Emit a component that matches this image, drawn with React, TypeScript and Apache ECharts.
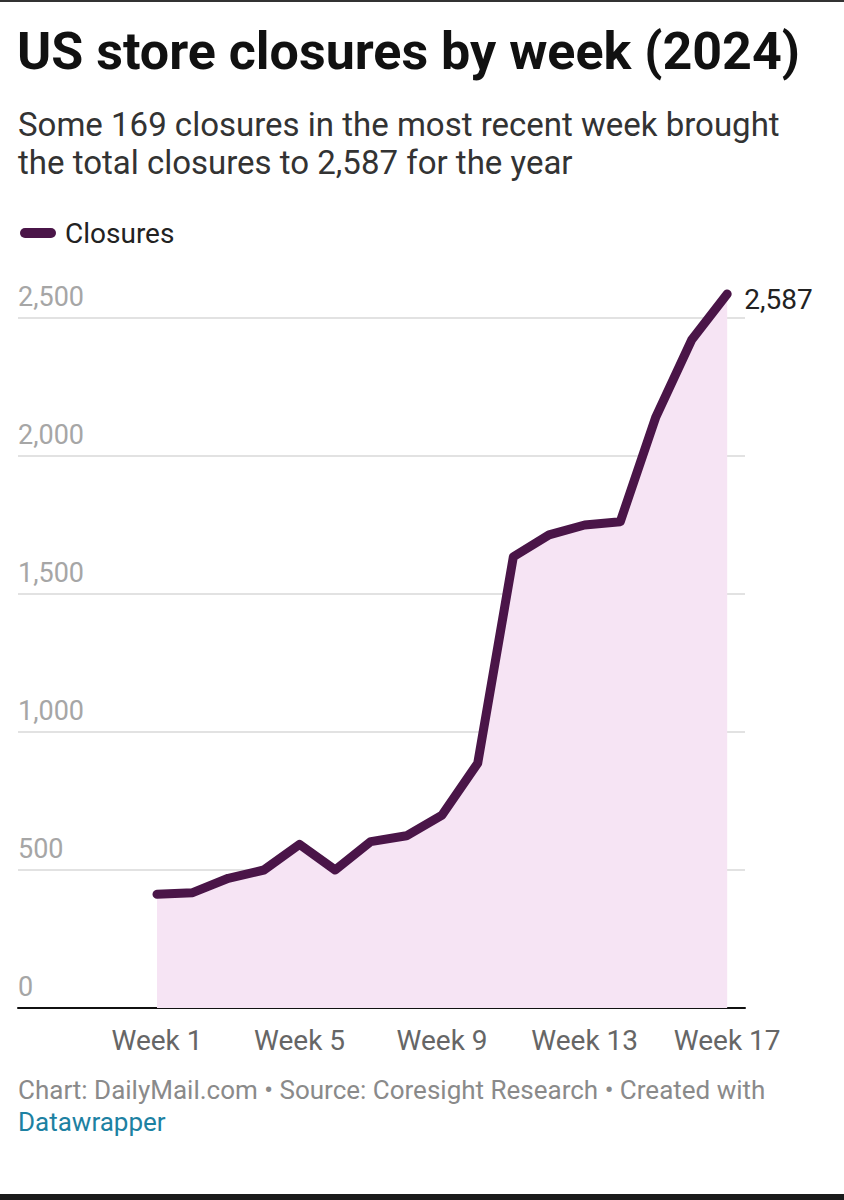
import React, { useEffect, useRef } from "react";
import * as echarts from "echarts";

const TITLE = "US store closures by week (2024)";
const SUBTITLE = "Some 169 closures in the most recent week brought\nthe total closures to 2,587 for the year";
const SERIES_NAME = "Closures";
const weeks = [1, 2, 3, 4, 5, 6, 7, 8, 9, 10, 11, 12, 13, 14, 15, 16, 17];
const closures = [412, 418, 470, 500, 593, 500, 603, 624, 699, 887, 1635, 1714, 1750, 1762, 2142, 2420, 2587];
const xTicks = [1, 5, 9, 13, 17];
const yTicks = [0, 500, 1000, 1500, 2000, 2500];
const FOOTER = "Chart: DailyMail.com • Source: Coresight Research • Created with";
const FOOTER_LINK = "Datawrapper";

const fmt = (v: number) => v.toLocaleString("en-US");

export default function App() {
  const ref = useRef<HTMLDivElement>(null);
  useEffect(() => {
    if (!ref.current) return;
    const chart = echarts.init(ref.current, null, { renderer: "svg" });
    const FONT = "Roboto";
    chart.setOption({
      animation: false,
      backgroundColor: "#ffffff",
      textStyle: { fontFamily: FONT },
      title: [
        {
          text: TITLE,
          left: 17,
          top: 25,
          padding: 0,
          textStyle: { fontFamily: FONT, fontSize: 52, fontWeight: "bold", color: "#111111", lineHeight: 52 },
        },
        {
          text: SUBTITLE,
          left: 18,
          top: 105,
          padding: 0,
          textStyle: { fontFamily: FONT, fontSize: 33, fontWeight: "normal", color: "#333333", lineHeight: 38 },
        },
        {
          text: FOOTER + "\n{link|" + FOOTER_LINK + "}",
          left: 18,
          top: 1074,
          padding: 0,
          textStyle: {
            fontFamily: FONT,
            fontSize: 26,
            fontWeight: "normal",
            color: "#8a8a8a",
            lineHeight: 32,
            rich: { link: { color: "#1d81a2", fontSize: 26, fontFamily: FONT, lineHeight: 32 } },
          },
        },
      ],
      legend: {
        left: 15,
        top: 214,
        data: [SERIES_NAME],
        icon: "path://M5,0 H31 A5,5 0 0 1 31,10 H5 A5,5 0 0 1 5,0 Z",
        itemWidth: 36,
        itemHeight: 10,
        textStyle: { fontFamily: FONT, fontSize: 28, color: "#222222", padding: [0, 0, 0, 4] },
      },
      grid: { left: 18, right: 99, top: 318, bottom: 192, containLabel: false },
      xAxis: {
        type: "value",
        min: -2.9,
        max: 17.5,
        splitLine: { show: false },
        axisTick: { show: false },
        axisLine: { show: true, onZero: false, lineStyle: { color: "#111111", width: 2 } },
        axisLabel: {
          customValues: xTicks,
          margin: 18,
          fontFamily: FONT,
          fontSize: 28,
          color: "#666666",
          formatter: (v: number) => "Week " + v,
        },
      },
      yAxis: {
        type: "value",
        min: yTicks[0],
        max: yTicks[yTicks.length - 1],
        interval: 500,
        axisLine: { show: false },
        axisTick: { show: false },
        splitLine: { show: true, lineStyle: { color: "#e2e2e2", width: 2 } },
        axisLabel: {
          inside: true,
          margin: 0,
          verticalAlign: "bottom",
          padding: [0, 0, 8, 0],
          fontFamily: FONT,
          fontSize: 27,
          color: "#a6a6a6",
          formatter: (v: number) => fmt(v),
        },
      },
      series: [
        {
          name: SERIES_NAME,
          type: "line",
          clip: false,
          data: weeks.map((w, i) => [w, closures[i]]),
          symbol: "none",
          color: "#4a1548",
          lineStyle: { color: "#4a1548", width: 9, cap: "round", join: "round" },
          areaStyle: { color: "#f6e4f4", opacity: 1 },
          endLabel: {
            show: true,
            distance: 17,
            offset: [0, 6],
            fontFamily: FONT,
            fontSize: 28,
            color: "#222222",
            formatter: (p: any) => fmt(p.value[1]),
          },
          z: 3,
        },
      ],
      graphic: [
        { type: "rect", left: 0, top: 0, shape: { width: 844, height: 2 }, style: { fill: "#333333" } },
        { type: "rect", left: 0, top: 1194, shape: { width: 844, height: 6 }, style: { fill: "#1a1a1a" } },
      ],
    });
    return () => chart.dispose();
  }, []);
  return (
    <div
      ref={ref}
      style={{ position: "absolute", left: 0, top: 0, width: 844, height: 1200, background: "#fff" }}
    />
  );
}
